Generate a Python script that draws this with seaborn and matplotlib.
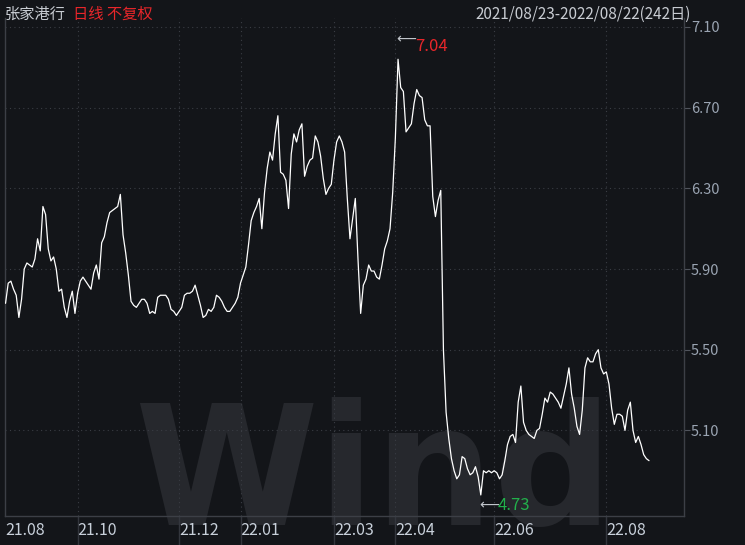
import numpy as np
import matplotlib
matplotlib.use("Agg")
import matplotlib.pyplot as plt
from matplotlib.ticker import MultipleLocator
import seaborn as sns

# daily close, 2021/08/23 - 2022/08/22, 242 trading days
close = [
    5.73, 5.83, 5.84, 5.80, 5.77, 5.66, 5.75, 5.90, 5.93, 5.92,
    5.91, 5.95, 6.05, 5.99, 6.21, 6.17, 6.00, 5.94, 5.96, 5.90,
    5.79, 5.80, 5.71, 5.66, 5.74, 5.79, 5.68, 5.78, 5.84, 5.86,
    5.84, 5.82, 5.80, 5.88, 5.92, 5.85, 6.03, 6.06, 6.13, 6.18,
    6.19, 6.20, 6.21, 6.27, 6.07, 5.98, 5.87, 5.74, 5.72, 5.71,
    5.73, 5.75, 5.75, 5.73, 5.68, 5.69, 5.68, 5.76, 5.77, 5.77,
    5.77, 5.75, 5.70, 5.69, 5.67, 5.69, 5.71, 5.77, 5.78, 5.78,
    5.79, 5.82, 5.77, 5.72, 5.66, 5.67, 5.70, 5.69, 5.71, 5.77,
    5.76, 5.74, 5.71, 5.69, 5.69, 5.71, 5.73, 5.76, 5.83, 5.87,
    5.91, 6.02, 6.14, 6.18, 6.21, 6.25, 6.10, 6.28, 6.40, 6.48,
    6.44, 6.57, 6.66, 6.38, 6.37, 6.34, 6.20, 6.47, 6.57, 6.53,
    6.59, 6.62, 6.36, 6.41, 6.44, 6.45, 6.56, 6.53, 6.46, 6.35,
    6.27, 6.30, 6.32, 6.44, 6.53, 6.56, 6.53, 6.48, 6.25, 6.05,
    6.15, 6.25, 5.95, 5.68, 5.82, 5.85, 5.92, 5.89, 5.89, 5.86,
    5.85, 5.92, 6.00, 6.04, 6.10, 6.28, 6.55, 6.94, 6.80, 6.78,
    6.58, 6.60, 6.62, 6.72, 6.79, 6.76, 6.75, 6.64, 6.61, 6.61,
    6.26, 6.16, 6.24, 6.29, 5.50, 5.19, 5.06, 4.96, 4.90, 4.86,
    4.88, 4.97, 4.96, 4.91, 4.88, 4.89, 4.92, 4.87, 4.78, 4.90,
    4.89, 4.90, 4.89, 4.90, 4.89, 4.86, 4.88, 4.95, 5.03, 5.07,
    5.08, 5.04, 5.24, 5.32, 5.14, 5.10, 5.08, 5.07, 5.06, 5.10,
    5.11, 5.18, 5.26, 5.24, 5.29, 5.28, 5.26, 5.24, 5.21, 5.27,
    5.33, 5.41, 5.28, 5.21, 5.12, 5.08, 5.20, 5.41, 5.46, 5.44,
    5.44, 5.48, 5.50, 5.41, 5.38, 5.39, 5.33, 5.21, 5.13, 5.18,
    5.18, 5.17, 5.10, 5.20, 5.24, 5.10, 5.04, 5.07, 5.03, 4.98,
    4.96, 4.95,
]
high_price = 7.04
low_price = 4.73

month_idx = [0, 27, 65, 88, 123, 146, 183, 225]
month_labels = ["21.08", "21.10", "21.12", "22.01", "22.03", "22.04", "22.06", "22.08"]
y_ticks = [5.10, 5.50, 5.90, 6.30, 6.70, 7.10]

stock_name = "张家港行"
mode_text = "日线 不复权"
range_text = "2021/08/23-2022/08/22(242日)"

day = np.arange(len(close))

sns.set_style("dark")
plt.rcParams["font.family"] = ["Noto Sans CJK SC", "DejaVu Sans"]

bg = "#131519"
grid_c = "#3a3d44"
fig = plt.figure(figsize=(7.45, 5.45), dpi=100, facecolor=bg)
ax = fig.add_axes([5 / 745, 1 - 516 / 545, 679 / 745, 498 / 545])
ax.set_facecolor(bg)

# watermark
ax.text(0.19, -0.018, "Wind", transform=ax.transAxes, fontsize=120, fontweight="bold",
        color="#26282d", ha="left", va="baseline", zorder=0, clip_on=False,
        family="DejaVu Sans")

sns.lineplot(x=day, y=close, ax=ax, color="white", linewidth=0.9, zorder=3)

ax.set_xlim(-0.2, 254.1)
ax.set_ylim(4.6756, 7.1446)

# grid
for v in y_ticks:
    ax.axhline(v, color=grid_c, linestyle=(0, (1, 3)), linewidth=0.8, zorder=1)
for m in month_idx[1:]:
    ax.axvline(m, color=grid_c, linestyle=(0, (1, 3)), linewidth=0.8, zorder=1)

# y axis on the right
ax.yaxis.tick_right()
ax.set_yticks(y_ticks)
ax.set_yticklabels([f"{v:.2f}" for v in y_ticks])
ax.tick_params(axis="y", direction="out", length=4, width=0.8, color="#50545c",
               labelcolor="#9aa4b2", labelsize=10.5, pad=1)

# x axis labels left-aligned at month starts
ax.set_xticks(month_idx)
ax.set_xticklabels(month_labels)
for lbl in ax.get_xticklabels():
    lbl.set_horizontalalignment("left")
ax.tick_params(axis="x", length=0, labelcolor="#c8d0da", labelsize=11.5, pad=4)
ax.xaxis.set_minor_locator(MultipleLocator(5))
ax.tick_params(axis="x", which="minor", direction="out", length=3, width=0.7, color="#50545c")
ax.vlines(month_idx[1:], -0.06, 0, transform=ax.get_xaxis_transform(),
          colors="#33363d", linewidth=1, clip_on=False)

for s in ["left", "right", "bottom"]:
    ax.spines[s].set_visible(True)
    ax.spines[s].set_color("#3c3f46")
    ax.spines[s].set_linewidth(1)
ax.spines["top"].set_visible(False)
ax.set_xlabel("")
ax.set_ylabel("")
ax.grid(False)

# high / low markers
i_hi = int(np.argmax(close))
i_lo = int(np.argmin(close))
ax.annotate("⟵", (i_hi, high_price), xytext=(-1, 0), textcoords="offset points",
            color="#c0c4ca", fontsize=10, ha="left", va="center", zorder=4, family="DejaVu Sans")
ax.annotate(f"{high_price:.2f}", (i_hi, high_price), xytext=(12, -5), textcoords="offset points",
            color="#e8262a", fontsize=12, ha="left", va="center", zorder=4)
ax.annotate("⟵", (i_lo, low_price), xytext=(-1, 0), textcoords="offset points",
            color="#c0c4ca", fontsize=10, ha="left", va="center", zorder=4, family="DejaVu Sans")
ax.annotate(f"{low_price:.2f}", (i_lo, low_price), xytext=(12, 0), textcoords="offset points",
            color="#22b04b", fontsize=12, ha="left", va="center", zorder=4)

# header
fig.text(5 / 745, 1 - 14 / 545, stock_name, color="#c8ccd2", fontsize=11, va="center")
fig.text(73 / 745, 1 - 14 / 545, mode_text, color="#e8262a", fontsize=11, va="center")
fig.text(691 / 745, 1 - 14 / 545, range_text, color="#c8ccd2", fontsize=11, va="center", ha="right")

fig.savefig("out.png", dpi=100, facecolor=fig.get_facecolor())
